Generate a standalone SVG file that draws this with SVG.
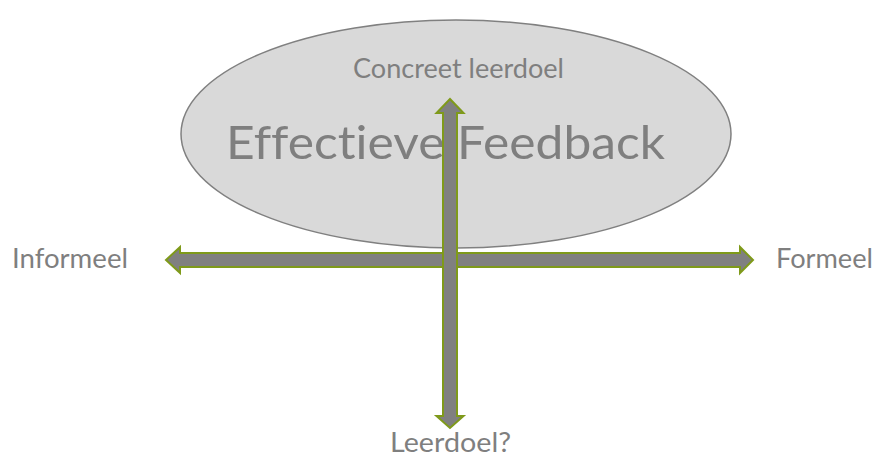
<svg xmlns="http://www.w3.org/2000/svg" width="879" height="458" viewBox="0 0 879 458">
<style>
.t{font-family:Lato,"Open Sans","Liberation Sans",sans-serif;fill:#7f7f7f;font-variant-ligatures:none;font-feature-settings:"liga" 0,"dlig" 0}
.arr{fill:#808080;stroke:#7f9a1a;stroke-width:2;stroke-linejoin:miter}
</style>
<rect width="879" height="458" fill="#ffffff"/>
<g id="ellipse">
<ellipse cx="456" cy="134" rx="275" ry="114" fill="#d9d9d9" stroke="#808080" stroke-width="1.5"/>
<text class="t" x="226" y="159" font-size="47" textLength="439" lengthAdjust="spacingAndGlyphs">Effectieve Feedback</text>
</g>
<g id="top-label"><text class="t" x="353" y="78" font-size="26" textLength="211" lengthAdjust="spacingAndGlyphs">Concreet leerdoel</text></g>
<g id="left-label"><text class="t" x="12" y="268" font-size="27" textLength="116" lengthAdjust="spacingAndGlyphs">Informeel</text></g>
<g id="right-label"><text class="t" x="776" y="268" font-size="27" textLength="97" lengthAdjust="spacingAndGlyphs">Formeel</text></g>
<g id="bottom-label"><text class="t" x="390" y="452" font-size="26" textLength="121" lengthAdjust="spacingAndGlyphs">Leerdoel?</text></g>
<g id="connectors">
<path class="arr" d="M166,260 L180,247 L180,253 L740,253 L740,247 L753,260 L740,273 L740,267 L180,267 L180,273 Z"/>
<path class="arr" d="M450,99 L463.5,113 L457,113 L457,416 L463.5,416 L450,428 L436.5,416 L443,416 L443,113 L436.5,113 Z"/>
</g>
</svg>
